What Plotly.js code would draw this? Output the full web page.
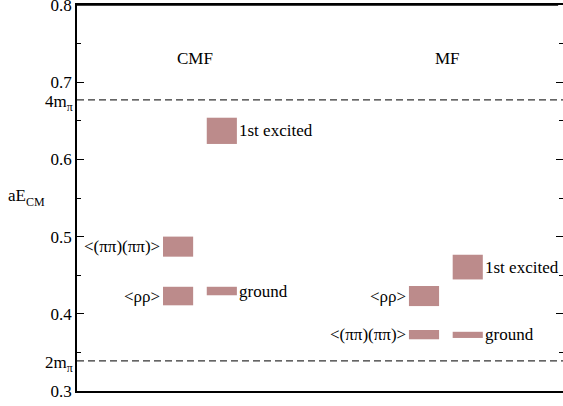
<!DOCTYPE html>
<html><head><meta charset="utf-8">
<script src="https://cdn.plot.ly/plotly-3.0.1.min.js"></script>
<style>
html,body{margin:0;padding:0;background:#fff}
#ytitle{position:absolute;left:8px;top:186px;font-family:"Liberation Serif";font-size:17px;line-height:20px;color:#000;white-space:nowrap}
#ytitle span{font-size:12px;position:relative;top:5px}
</style>
</head><body><div id="chart" style="width:563px;height:406px"></div>
<div id="ytitle">aE<span>CM</span></div>
<script>
// level data: x position (column), centre energy, half-height
const levelNames = ["CMF <(ππ)(ππ)>", "CMF <ρρ>", "CMF ground", "CMF 1st excited", "MF <ρρ>", "MF <(ππ)(ππ)>", "MF 1st excited", "MF ground"];
const levelX = [0.208, 0.208, 0.298, 0.298, 0.714, 0.714, 0.804, 0.804];
const levelE = [0.487, 0.423, 0.4295, 0.637, 0.423, 0.373, 0.4605, 0.3727];
const levelErr = [0.013, 0.012, 0.0055, 0.017, 0.013, 0.006, 0.016, 0.004];
const thresholdNames = ["4m<sub>π</sub>", "2m<sub>π</sub>"];
const thresholdE = [0.677, 0.339];
const labelTexts = ["<(ππ)(ππ)>", "<ρρ>", "ground", "1st excited", "<ρρ>", "<(ππ)(ππ)>", "1st excited", "ground"];
const labelSide = ["left", "left", "right", "right", "left", "left", "right", "right"];
const panelNames = ["CMF", "MF"];
const panelX = [0.243, 0.763];
const panelY = 0.731;
const yTicks = [0.3, 0.4, 0.5, 0.6, 0.7, 0.8];
const yTickText = ["0.3", "0.4", "0.5", "0.6", "0.7", "0.8"];
const yMinorTicks = [0.35, 0.45, 0.55, 0.65, 0.75];

const boxW = 0.062;
const fam = "Liberation Serif";
const mkFont = (s) => ({family: fam, size: s || 17, color: "#000"});

const trace = {
  type: "bar",
  x: levelX,
  base: levelE.map((e, i) => e - levelErr[i]),
  y: levelErr.map(v => 2 * v),
  width: boxW,
  marker: {color: "#bc8b8b"},
  hoverinfo: "skip",
  showlegend: false
};

const annotations = [];
labelTexts.forEach((t, i) => {
  const left = labelSide[i] === "left";
  annotations.push({
    x: levelX[i] + (left ? -boxW / 2 : boxW / 2), y: levelE[i], xref: "x", yref: "y",
    text: t.replace(/</g, "&lt;").replace(/>/g, "&gt;"), showarrow: false,
    xanchor: left ? "right" : "left", yanchor: "middle", xshift: left ? -1 : 0,
    font: mkFont()
  });
});
panelNames.forEach((t, i) => annotations.push({x: panelX[i], y: panelY, xref: "x", yref: "y", text: t, showarrow: false, font: mkFont()}));
thresholdNames.forEach((t, i) => annotations.push({x: 0, y: thresholdE[i], xref: "paper", yref: "y", text: t, showarrow: false, xanchor: "right", yanchor: "middle", xshift: -2, yshift: -3, font: mkFont()}));

const shapes = thresholdE.map(e => ({type: "line", xref: "paper", yref: "y", x0: 0, x1: 1, y0: e, y1: e, line: {color: "#333", width: 1.2, dash: "7px,4px"}}));
shapes.push({type: "line", xref: "paper", yref: "paper", x0: 0, x1: 0.99, y0: 1, y1: 1, line: {color: "#000", width: 1.5}});

const layout = {
  width: 563, height: 406,
  margin: {l: 77, r: 0, t: 5, b: 15},
  paper_bgcolor: "#fff", plot_bgcolor: "#fff",
  font: mkFont(),
  xaxis: {range: [0, 1], showgrid: false, zeroline: false, showticklabels: false, ticks: "", showline: true, mirror: true, linecolor: "#000", linewidth: 1.5},
  yaxis: {range: [0.3, 0.8], tickmode: "array", tickvals: yTicks, ticktext: yTickText, ticklabeloverflow: "allow",
    showgrid: false, zeroline: false, showline: true, mirror: "ticks", linecolor: "#000", linewidth: 1.5,
    ticks: "inside", ticklen: 7, tickwidth: 1, tickcolor: "#000", tickfont: mkFont(),
    minor: {tickmode: "array", tickvals: yMinorTicks, ticks: "inside", ticklen: 4, tickcolor: "#000", showgrid: false}},
  shapes: shapes,
  annotations: annotations
};
Plotly.newPlot("chart", [trace], layout, {displayModeBar: false});
</script></body></html>
